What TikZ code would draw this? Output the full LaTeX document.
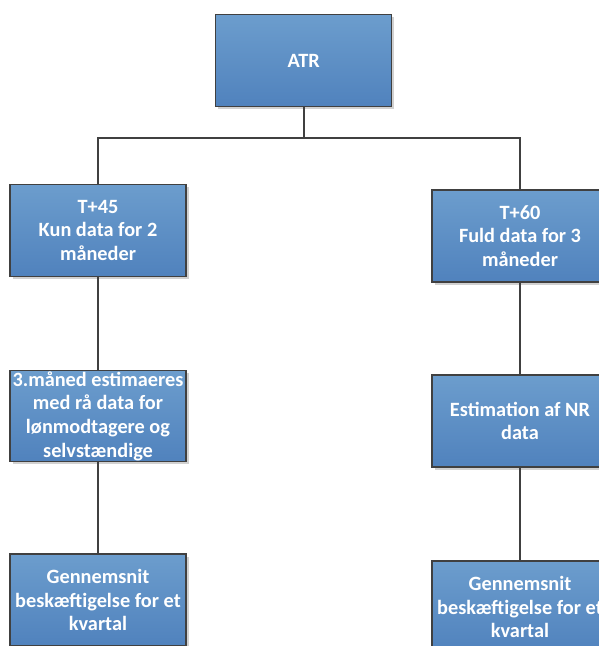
\documentclass[tikz,border=0pt]{standalone}
\usepackage{fontspec}
\setmainfont{Carlito}
\usetikzlibrary{shadows}
\definecolor{boxtop}{RGB}{108,157,205}
\definecolor{boxbot}{RGB}{80,130,189}
\definecolor{edge}{RGB}{64,64,64}
\tikzset{
  orgbox/.style={draw=edge, line width=1.2pt, top color=boxtop, bottom color=boxbot,
    minimum width=176pt, minimum height=92pt, inner sep=1pt, align=center,
    text=white, font=\fontsize{20.3}{23.7}\selectfont\bfseries,
    drop shadow={shadow xshift=2.5pt, shadow yshift=-2.5pt, fill=black!18, opacity=1}},
  link/.style={draw=edge, line width=2pt}
}
\begin{document}
\begin{tikzpicture}[x=1pt,y=-1pt]
\useasboundingbox (0,0) rectangle (598,646);
\node[orgbox] (atr) at (303.7,60.7) {ATR};
\node[orgbox] (t45) at (98,230.2) {T+45\\Kun data for 2\\måneder};
\node[orgbox] (t60) at (520,236) {T+60\\Fuld data for 3\\måneder};
\node[orgbox, minimum height=89pt] (m1) at (98,416.2) {3.måned estimaeres\\med rå data for\\lønmodtagere og\\selvstændige};
\node[orgbox] (m2) at (520,421) {Estimation af NR\\data};
\node[orgbox] (b1) at (98,600) {Gennemsnit\\beskæftigelse for et\\kvartal};
\node[orgbox] (b2) at (520,607) {Gennemsnit\\beskæftigelse for et\\kvartal};
\coordinate (bus) at (303.7,138);
\draw[link] (atr.south) -- (bus);
\draw[link] (bus) -| (t45.north);
\draw[link] (bus) -| (t60.north);
\draw[link] (t45.south) -- (m1.north);
\draw[link] (m1.south) -- (b1.north);
\draw[link] (t60.south) -- (m2.north);
\draw[link] (m2.south) -- (b2.north);
\end{tikzpicture}
\end{document}
